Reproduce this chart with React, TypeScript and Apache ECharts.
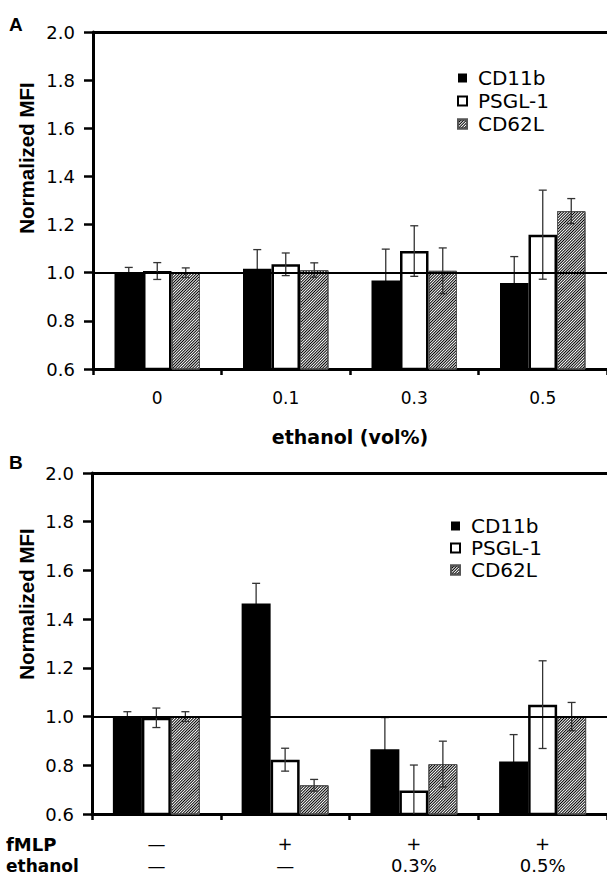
import React, { useEffect, useRef } from 'react';
import * as echarts from 'echarts';

// ---- data ----
const seriesNames = ['CD11b', 'PSGL-1', 'CD62L'];

const categoriesA = ['0', '0.1', '0.3', '0.5'];
const cd11bA = [1.0, 1.016, 0.968, 0.957];
const cd11bAErr = [0.022, 0.08, 0.13, 0.11];
const psglA = [1.007, 1.035, 1.09, 1.158];
const psglAErr = [0.035, 0.047, 0.105, 0.185];
const cd62lA = [1.0, 1.011, 1.008, 1.256];
const cd62lAErr = [0.02, 0.03, 0.095, 0.052];

const fmlpLabels = ['—', '+', '+', '+'];
const ethanolLabels = ['—', '—', '0.3%', '0.5%'];
const cd11bB = [1.0, 1.464, 0.866, 0.816];
const cd11bBErr = [0.02, 0.083, 0.13, 0.11];
const psglB = [0.995, 0.823, 0.696, 1.049];
const psglBErr = [0.04, 0.047, 0.105, 0.18];
const cd62lB = [1.0, 0.718, 0.805, 1.0];
const cd62lBErr = [0.02, 0.024, 0.094, 0.058];

const yMin = 0.6;
const yMax = 2.0;
const yStep = 0.2;
const refValue = 1.0;

const FONT = 'DejaVu Sans';
const NAME_FONT = '"Liberation Sans", Arial, sans-serif';

const barStyles: any[] = [
  { color: '#000000' },
  { color: '#ffffff', borderColor: '#000000', borderWidth: 2.5 },
  {
    color: '#ffffff',
    borderColor: '#555555',
    borderWidth: 1,
    decal: {
      symbol: 'rect',
      symbolSize: 1,
      color: '#000000',
      dashArrayX: [1, 0],
      dashArrayY: [1, 1],
      rotation: -Math.PI / 4,
    },
  },
];

function buildPanel(
  g: number,
  vals: number[][],
  errs: number[][],
  bw: number
): any[] {
  const out: any[] = [];
  vals.forEach((v, k) => {
    const s: any = {
      type: 'bar',
      name: seriesNames[k],
      xAxisIndex: g,
      yAxisIndex: g,
      data: v,
      barWidth: bw,
      barGap: '0%',
      z: 2,
      itemStyle: barStyles[k],
      emphasis: { disabled: true },
      silent: true,
    };
    if (k === 2) {
      s.markLine = {
        silent: true,
        symbol: ['none', 'none'],
        label: { show: false },
        z: 5,
        data: [
          { yAxis: refValue, lineStyle: { color: '#000', width: 2, type: 'solid' } },
          { yAxis: yMax, lineStyle: { color: '#000', width: 3, type: 'solid' } },
        ],
      };
    }
    out.push(s);
    const e = errs[k];
    out.push({
      type: 'custom',
      xAxisIndex: g,
      yAxisIndex: g,
      z: k === 0 ? 1 : 3,
      silent: true,
      clip: true,
      data: v.map((val, i) => [i, val, e[i]]),
      encode: { x: 0, y: 1 },
      renderItem: (params: any, api: any) => {
        const i = api.value(0);
        const val = api.value(1);
        const er = api.value(2);
        const c = api.coord([i, val]);
        const x = c[0] + (k - 1) * bw;
        const t = api.coord([i, val + er])[1];
        const b = api.coord([i, val - er])[1];
        const cap = 4;
        const st = { stroke: '#333', lineWidth: 1.3 };
        return {
          type: 'group',
          children: [
            { type: 'line', shape: { x1: x, y1: t, x2: x, y2: b }, style: st },
            { type: 'line', shape: { x1: x - cap, y1: t, x2: x + cap, y2: t }, style: st },
            { type: 'line', shape: { x1: x - cap, y1: b, x2: x + cap, y2: b }, style: st },
          ],
        };
      },
    });
  });
  return out;
}

function yAxisOpt(g: number): any {
  return {
    type: 'value',
    gridIndex: g,
    min: yMin,
    max: yMax,
    interval: yStep,
    axisLine: { show: true, lineStyle: { color: '#000', width: 3 } },
    axisTick: { show: true, length: 9, lineStyle: { color: '#000', width: 2.5 } },
    splitLine: { show: false },
    axisLabel: {
      formatter: (v: number) => v.toFixed(1),
      fontFamily: FONT,
      fontSize: 18,
      color: '#000',
      margin: 18,
    },
  };
}

function legendOpt(left: number, top: number, gap: number): any {
  return {
    data: seriesNames,
    orient: 'vertical',
    left,
    top,
    icon: 'rect',
    itemWidth: 9,
    itemHeight: 9,
    itemGap: gap,
    selectedMode: false,
    textStyle: {
      fontFamily: FONT,
      fontSize: 20,
      color: '#000',
      lineHeight: 20,
      padding: [0, 0, 0, 6],
    },
  };
}

export default function App() {
  const ref = useRef<HTMLDivElement>(null);
  useEffect(() => {
    if (!ref.current) return;
    const chart = echarts.init(ref.current, undefined, { renderer: 'svg' });
    const bwA = 28.5;
    const bwB = 29;
    const option: any = {
      animation: false,
      backgroundColor: '#fff',
      grid: [
        { left: 93, top: 32, width: 514, height: 337 },
        { left: 92, top: 473, width: 522, height: 342 },
      ],
      xAxis: [
        {
          type: 'category',
          gridIndex: 0,
          data: categoriesA,
          axisLine: { lineStyle: { color: '#000', width: 3 } },
          axisTick: { show: true, length: 6, lineStyle: { color: '#000', width: 2.5 } },
          axisLabel: { fontFamily: FONT, fontSize: 17, color: '#000', margin: 20 },
        },
        {
          type: 'category',
          gridIndex: 1,
          data: fmlpLabels.map((f, i) => f + '\n' + ethanolLabels[i]),
          axisLine: { lineStyle: { color: '#000', width: 3 } },
          axisTick: { show: true, length: 6, lineStyle: { color: '#000', width: 2.5 } },
          axisLabel: {
            fontFamily: FONT,
            fontSize: 18,
            lineHeight: 22,
            color: '#000',
            margin: 18,
          },
        },
      ],
      yAxis: [yAxisOpt(0), yAxisOpt(1)],
      legend: [legendOpt(452, 63, 3), legendOpt(445, 511, 2)],
      series: [
        ...buildPanel(0, [cd11bA, psglA, cd62lA], [cd11bAErr, psglAErr, cd62lAErr], bwA),
        ...buildPanel(1, [cd11bB, psglB, cd62lB], [cd11bBErr, psglBErr, cd62lBErr], bwB),
      ],
      graphic: [
        {
          type: 'text', left: 9, top: 15,
          style: { text: 'A', fontFamily: NAME_FONT, fontWeight: 'bold', fontSize: 19, fill: '#000' },
        },
        {
          type: 'text', left: 9, top: 453,
          style: { text: 'B', fontFamily: NAME_FONT, fontWeight: 'bold', fontSize: 19, fill: '#000' },
        },
        {
          type: 'text', x: 26, y: 158, rotation: Math.PI / 2,
          style: {
            text: 'Normalized MFI', fontFamily: NAME_FONT, fontWeight: 'bold', fontSize: 20.5,
            fill: '#000', align: 'center', verticalAlign: 'middle',
          },
        },
        {
          type: 'text', x: 26, y: 604, rotation: Math.PI / 2,
          style: {
            text: 'Normalized MFI', fontFamily: NAME_FONT, fontWeight: 'bold', fontSize: 20.5,
            fill: '#000', align: 'center', verticalAlign: 'middle',
          },
        },
        {
          type: 'text', x: 350, y: 437,
          style: {
            text: 'ethanol (vol%)', fontFamily: FONT, fontWeight: 'bold', fontSize: 19,
            fill: '#000', align: 'center', verticalAlign: 'middle',
          },
        },
        {
          type: 'text', x: 6, y: 844,
          style: {
            text: 'fMLP', fontFamily: FONT, fontWeight: 'bold', fontSize: 18,
            fill: '#000', align: 'left', verticalAlign: 'middle',
          },
        },
        {
          type: 'text', x: 6, y: 866,
          style: {
            text: 'ethanol', fontFamily: FONT, fontWeight: 'bold', fontSize: 17,
            fill: '#000', align: 'left', verticalAlign: 'middle',
          },
        },
      ],
    };
    chart.setOption(option);
    return () => chart.dispose();
  }, []);
  return (
    <div
      ref={ref}
      style={{ position: 'absolute', left: 0, top: 0, width: 607, height: 876, background: '#fff' }}
    />
  );
}
